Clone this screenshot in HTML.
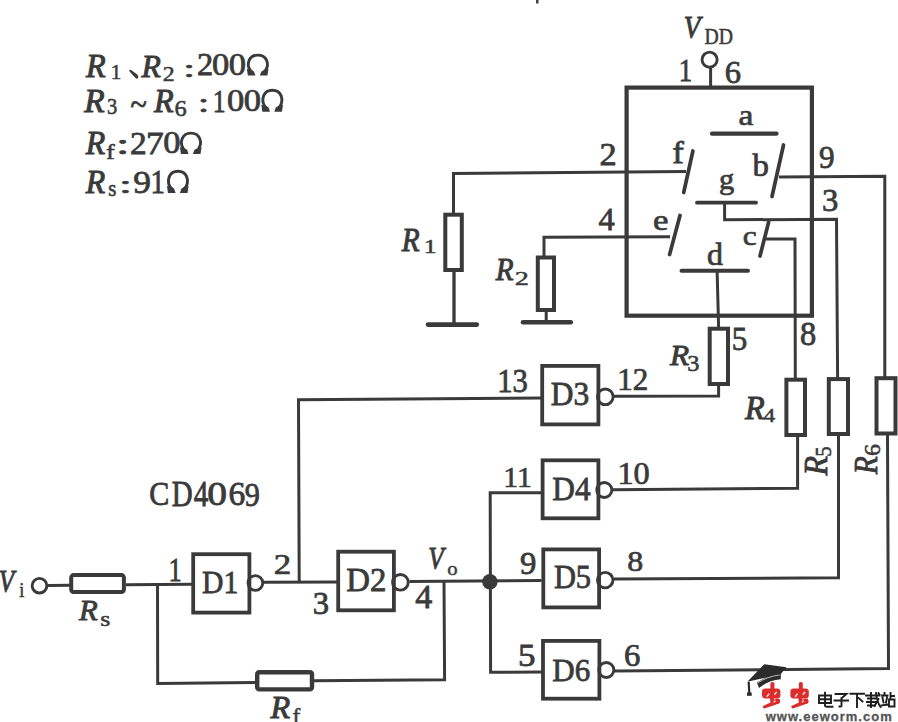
<!DOCTYPE html>
<html><head><meta charset="utf-8"><style>html,body{margin:0;padding:0;background:#fff}svg{display:block}</style></head>
<body><svg width="898" height="722" viewBox="0 0 898 722">
<rect width="898" height="722" fill="#fff"/>
<g stroke="#3a3a3a" fill="none" stroke-linecap="butt">
<rect x="626.6" y="87.6" width="185.3" height="228.10000000000002" fill="none" stroke-width="4.2"/>
<circle cx="709.6" cy="59.7" r="7.55" fill="none" stroke-width="2.9"/>
<line x1="710.6" y1="68" x2="710.6" y2="87" stroke-width="3"/>
<rect x="536" y="0" width="2.5" height="3.5" fill="#444" stroke="none"/>
<g stroke-linecap="round">
<line x1="712" y1="133.7" x2="776.5" y2="133.7" stroke-width="4.2"/>
<line x1="692.9" y1="151" x2="683.7" y2="192.5" stroke-width="3.7"/>
<line x1="783.5" y1="145" x2="772" y2="196.5" stroke-width="3.7"/>
<line x1="697" y1="202.7" x2="756" y2="202.7" stroke-width="3.8"/>
<line x1="680" y1="215.5" x2="669.6" y2="254.5" stroke-width="3.7"/>
<line x1="768.6" y1="222.3" x2="760" y2="256" stroke-width="3.7"/>
<line x1="681.5" y1="270.7" x2="748" y2="270.7" stroke-width="4"/>
</g>
<polyline points="686,171.6 453.5,173.5 453.5,214" fill="none" stroke-width="3" stroke-linejoin="miter"/>
<rect x="445.3" y="214.7" width="16.5" height="55.30000000000001" fill="none" stroke-width="4"/>
<line x1="454" y1="271" x2="454" y2="323.5" stroke-width="3.3"/>
<line x1="428" y1="324.6" x2="476.8" y2="324.6" stroke-width="4.6" stroke-linecap="round"/>
<polyline points="670,236.8 544,237.3 544,256" fill="none" stroke-width="3" stroke-linejoin="miter"/>
<rect x="537.8" y="257.5" width="16.200000000000045" height="52.5" fill="none" stroke-width="4"/>
<line x1="546.2" y1="311" x2="546.2" y2="322" stroke-width="3"/>
<line x1="523" y1="322.3" x2="570.8" y2="322.3" stroke-width="4.6" stroke-linecap="round"/>
<polyline points="779,176.9 884.8,176.3 884.8,377" fill="none" stroke-width="3" stroke-linejoin="miter"/>
<rect x="876.5" y="378.2" width="19.0" height="55.30000000000001" fill="none" stroke-width="4"/>
<polyline points="887.5,435 888.5,668.6 615,671.1" fill="none" stroke-width="3" stroke-linejoin="miter"/>
<polyline points="724.6,202.7 724.6,219.8 836.5,219.3 837.6,378" fill="none" stroke-width="3" stroke-linejoin="miter"/>
<rect x="828.8" y="379.1" width="19.200000000000045" height="54.89999999999998" fill="none" stroke-width="4"/>
<polyline points="838.5,435.5 838.5,577.8 614,578.9" fill="none" stroke-width="3" stroke-linejoin="miter"/>
<polyline points="766,239.1 795,239.1 795.3,378" fill="none" stroke-width="3" stroke-linejoin="miter"/>
<rect x="786.4" y="379.7" width="18.600000000000023" height="55.30000000000001" fill="none" stroke-width="4"/>
<polyline points="797.6,436.5 797.6,488.3 613,489.7" fill="none" stroke-width="3" stroke-linejoin="miter"/>
<line x1="717.1" y1="270.7" x2="718.6" y2="327" stroke-width="3"/>
<rect x="709.7" y="328.7" width="18.299999999999955" height="55.30000000000001" fill="none" stroke-width="4"/>
<polyline points="718.6,385.5 718.6,396 613,396.2" fill="none" stroke-width="3" stroke-linejoin="miter"/>
<rect x="542.1999999999999" y="365.9" width="56.2" height="58.500000000000014" fill="none" stroke-width="3.8"/>
<circle cx="605.3" cy="396.8" r="7.8500000000000005" fill="none" stroke-width="2.9"/>
<polyline points="299.2,582 298.5,399.8 541,397.9" fill="none" stroke-width="3" stroke-linejoin="miter"/>
<circle cx="39.5" cy="585.7" r="7.3500000000000005" fill="none" stroke-width="2.9"/>
<line x1="48" y1="585.4" x2="70" y2="585.2" stroke-width="3"/>
<rect x="71.2" y="575.1" width="52.7" height="17" rx="2.5" fill="none" stroke-width="4"/>
<line x1="126" y1="584.8" x2="192" y2="584.3" stroke-width="3"/>
<polyline points="157.5,584.5 157.7,683.4 256,682.5" fill="none" stroke-width="3" stroke-linejoin="miter"/>
<rect x="257.2" y="672.2" width="54.8" height="17.2" rx="2" fill="none" stroke-width="4.4"/>
<polyline points="313,680.8 444.6,679.8 444,581.5" fill="none" stroke-width="3" stroke-linejoin="miter"/>
<rect x="193.20000000000002" y="554.1999999999999" width="56.2" height="58.40000000000005" fill="none" stroke-width="3.8"/>
<circle cx="255.4" cy="583" r="7.3500000000000005" fill="none" stroke-width="2.9"/>
<line x1="264" y1="582.2" x2="337" y2="581.9" stroke-width="3"/>
<rect x="338.2" y="551.6999999999999" width="55.7" height="58.600000000000094" fill="none" stroke-width="3.8"/>
<circle cx="400.4" cy="582.3" r="7.8500000000000005" fill="none" stroke-width="2.9"/>
<line x1="409.5" y1="581.6" x2="541.6" y2="580.6" stroke-width="3"/>
<circle cx="489.9" cy="581.7" r="7.7" fill="#3a3a3a" stroke-width="0"/>
<polyline points="541.6,492.7 490.2,492.7 490.6,672.2 542,672.1" fill="none" stroke-width="3" stroke-linejoin="miter"/>
<rect x="542.6" y="460.29999999999995" width="55.79999999999991" height="58.00000000000007" fill="none" stroke-width="3.8"/>
<circle cx="604.3" cy="490" r="7.55" fill="none" stroke-width="2.9"/>
<rect x="543.3" y="549.4" width="55.800000000000026" height="57.99999999999996" fill="none" stroke-width="3.8"/>
<circle cx="605.2" cy="580.1" r="7.749999999999999" fill="none" stroke-width="2.9"/>
<rect x="543.0" y="640.9" width="56.399999999999935" height="57.800000000000026" fill="none" stroke-width="3.8"/>
<circle cx="606.3" cy="670" r="7.55" fill="none" stroke-width="2.9"/>
<path d="M129.3,70.2 Q130.2,69.4 131.5,70.3 L137.2,74.6 Q139.2,76.6 137.8,78.3 Q136.4,79.3 135,77.6 L129.6,71.4 Q129,70.8 129.3,70.2 Z" fill="#3a3a3a" stroke="none"/>
</g>
<g font-family="Liberation Serif" font-size="100" fill="#3a3a3a" stroke="#3a3a3a" stroke-width="2.4">
<text transform="translate(86.00,77.37) scale(0.3220,0.3333)" font-style="italic" stroke-width="3.0">R</text>
<text transform="translate(110.80,79.40) scale(0.2114,0.2182)">1</text>
<text transform="translate(141.50,76.88) scale(0.3169,0.3242)" font-style="italic" stroke-width="3.0">R</text>
<text transform="translate(162.84,81.38) scale(0.2390,0.2179)">2</text>
<text transform="translate(182.97,76.95) scale(0.4417,0.2521)">:</text>
<text transform="translate(197.10,75.29) scale(0.3244,0.3149)">2</text>
<text transform="translate(212.02,74.98) scale(0.3452,0.3103)">0</text>
<text transform="translate(228.72,74.98) scale(0.3452,0.3103)">0</text>
<text transform="translate(84.30,112.36) scale(0.3339,0.3439)" font-style="italic" stroke-width="3.0">R</text>
<text transform="translate(106.98,114.17) scale(0.2049,0.2299)">3</text>
<text transform="translate(130.59,115.01) scale(0.3021,0.3294)">~</text>
<text transform="translate(154.10,111.76) scale(0.3220,0.3424)" font-style="italic" stroke-width="3.0">R</text>
<text transform="translate(174.62,116.14) scale(0.2442,0.2294)">6</text>
<text transform="translate(197.87,112.34) scale(0.4167,0.2625)">:</text>
<text transform="translate(212.69,111.80) scale(0.2571,0.3212)">1</text>
<text transform="translate(227.02,111.18) scale(0.3452,0.3118)">0</text>
<text transform="translate(243.72,111.18) scale(0.3452,0.3118)">0</text>
<text transform="translate(85.80,154.37) scale(0.3186,0.3288)" font-style="italic" stroke-width="3.0">R</text>
<text transform="translate(106.01,159.00) scale(0.2633,0.2141)">f</text>
<text transform="translate(115.93,154.41) scale(0.4833,0.2875)">:</text>
<text transform="translate(130.06,153.69) scale(0.3341,0.3134)">2</text>
<text transform="translate(145.88,153.68) scale(0.3537,0.3182)">7</text>
<text transform="translate(163.32,153.38) scale(0.3452,0.3088)">0</text>
<text transform="translate(85.80,192.66) scale(0.3186,0.3394)" font-style="italic" stroke-width="3.0">R</text>
<text transform="translate(108.16,196.47) scale(0.2097,0.2271)">s</text>
<text transform="translate(118.83,192.74) scale(0.4833,0.2563)">:</text>
<text transform="translate(133.24,192.68) scale(0.3535,0.3239)">9</text>
<text transform="translate(150.50,193.00) scale(0.2886,0.3288)">1</text>
<text transform="translate(683.74,38.37) scale(0.2712,0.3134)" font-style="italic" stroke-width="3.0">V</text>
<text transform="translate(704.61,43.68) scale(0.1971,0.2227)">DD</text>
<text transform="translate(678.68,80.80) scale(0.2686,0.3152)">1</text>
<text transform="translate(724.70,83.37) scale(0.3256,0.3132)">6</text>
<text transform="translate(738.50,125.31) scale(0.3350,0.2896)">a</text>
<text transform="translate(672.26,163.00) scale(0.3467,0.3183)">f</text>
<text transform="translate(752.40,176.19) scale(0.3283,0.3057)">b</text>
<text transform="translate(819.07,168.18) scale(0.3116,0.3194)">9</text>
<text transform="translate(719.08,189.07) scale(0.3045,0.2918)">g</text>
<text transform="translate(821.97,210.98) scale(0.3268,0.3194)">3</text>
<text transform="translate(652.91,230.41) scale(0.3486,0.2937)">e</text>
<text transform="translate(742.85,244.72) scale(0.3135,0.2812)">c</text>
<text transform="translate(707.04,265.49) scale(0.3196,0.3057)">d</text>
<text transform="translate(599.62,164.58) scale(0.3439,0.3194)">2</text>
<text transform="translate(598.55,230.38) scale(0.3255,0.3152)">4</text>
<text transform="translate(401.70,251.17) scale(0.2932,0.3303)" font-style="italic" stroke-width="3.0">R</text>
<text transform="translate(423.69,253.00) scale(0.2571,0.1970)">1</text>
<text transform="translate(495.80,280.09) scale(0.2915,0.3091)" font-style="italic" stroke-width="3.0">R</text>
<text transform="translate(514.87,284.60) scale(0.2829,0.1955)">2</text>
<text transform="translate(731.74,349.67) scale(0.3100,0.3273)">5</text>
<text transform="translate(670.00,364.70) scale(0.3136,0.3030)" font-style="italic" stroke-width="3.0">R</text>
<text transform="translate(687.28,370.78) scale(0.2439,0.2239)">3</text>
<text transform="translate(800.00,344.73) scale(0.3238,0.3338)">8</text>
<text transform="translate(745.00,418.67) scale(0.3220,0.3288)" font-style="italic" stroke-width="3.0">R</text>
<text transform="translate(763.53,421.61) scale(0.2340,0.1939)">4</text>
<text transform="translate(497.24,391.77) scale(0.3069,0.3299)">13</text>
<text transform="translate(617.21,389.89) scale(0.3105,0.3119)">12</text>
<text transform="translate(550.76,405.37) scale(0.3148,0.3328)">D3</text>
<text transform="translate(149.20,505.22) scale(0.3000,0.3412)">C</text>
<text transform="translate(171.73,505.55) scale(0.2892,0.3515)">D</text>
<text transform="translate(193.72,505.55) scale(0.2915,0.3515)">4</text>
<text transform="translate(207.22,505.22) scale(0.3952,0.3412)">0</text>
<text transform="translate(228.46,505.22) scale(0.3349,0.3412)">6</text>
<text transform="translate(244.79,505.55) scale(0.3023,0.3463)">9</text>
<text transform="translate(-1.26,591.97) scale(0.2515,0.3134)" font-style="italic" stroke-width="3.0">V</text>
<text transform="translate(19.13,597.48) scale(0.1833,0.2164)">i</text>
<text transform="translate(78.90,619.82) scale(0.3068,0.2848)" font-style="italic" stroke-width="3.0">R</text>
<text transform="translate(100.27,625.69) scale(0.2581,0.2104)">s</text>
<text transform="translate(168.41,580.70) scale(0.2657,0.3303)">1</text>
<text transform="translate(202.11,593.27) scale(0.2965,0.3254)">D1</text>
<text transform="translate(273.70,574.40) scale(0.3488,0.3045)">2</text>
<text transform="translate(346.32,591.37) scale(0.3281,0.3328)">D2</text>
<text transform="translate(312.67,614.48) scale(0.3268,0.3179)">3</text>
<text transform="translate(415.32,607.86) scale(0.3404,0.3364)">4</text>
<text transform="translate(428.13,568.76) scale(0.2530,0.3194)" font-style="italic" stroke-width="3.0">V</text>
<text transform="translate(447.27,574.52) scale(0.2071,0.1813)">o</text>
<text transform="translate(270.60,717.77) scale(0.3220,0.3258)" font-style="italic" stroke-width="3.0">R</text>
<text transform="translate(292.40,722.50) scale(0.2333,0.2169)">f</text>
<text transform="translate(503.33,487.00) scale(0.2963,0.3030)">11</text>
<text transform="translate(552.26,499.67) scale(0.3136,0.3333)">D4</text>
<text transform="translate(617.39,484.38) scale(0.3230,0.3088)">10</text>
<text transform="translate(519.92,573.88) scale(0.3279,0.3239)">9</text>
<text transform="translate(553.89,588.07) scale(0.3043,0.3288)">D5</text>
<text transform="translate(627.32,571.11) scale(0.3190,0.2941)">8</text>
<text transform="translate(517.90,665.68) scale(0.3500,0.3182)">5</text>
<text transform="translate(552.27,681.45) scale(0.3103,0.3250)">D6</text>
<text transform="translate(623.99,666.48) scale(0.3279,0.3103)">6</text>
<text transform="translate(826.87,475.50) rotate(-90) scale(0.3203,0.3318)" font-style="italic" stroke-width="2.6">R</text>
<text transform="translate(830.56,456.75) rotate(-90) scale(0.2075,0.2364)" stroke-width="2.4">5</text>
<text transform="translate(877.37,474.30) rotate(-90) scale(0.2949,0.3273)" font-style="italic" stroke-width="2.6">R</text>
<text transform="translate(880.24,455.96) rotate(-90) scale(0.2395,0.2279)" stroke-width="2.4">6</text>
</g>
<g transform="translate(246.8,54.5) scale(21.69999999999999,21.099999999999994)"><path d="M.27,.86 C.06,.72 .03,.46 .11,.27 C.20,.07 .38,.03 .51,.03 C.64,.03 .82,.07 .91,.27 C.99,.46 .96,.72 .75,.86" fill="none" stroke="#3a3a3a" stroke-width=".135"/><path d="M.0,.68 L.05,1 L.40,1 L.33,.80 Z M1,.68 L.95,1 L.60,1 L.67,.80 Z" fill="#3a3a3a"/></g>
<g transform="translate(261.3,89.5) scale(21.69999999999999,22.299999999999997)"><path d="M.27,.86 C.06,.72 .03,.46 .11,.27 C.20,.07 .38,.03 .51,.03 C.64,.03 .82,.07 .91,.27 C.99,.46 .96,.72 .75,.86" fill="none" stroke="#3a3a3a" stroke-width=".135"/><path d="M.0,.68 L.05,1 L.40,1 L.33,.80 Z M1,.68 L.95,1 L.60,1 L.67,.80 Z" fill="#3a3a3a"/></g>
<g transform="translate(179.9,132.5) scale(21.69999999999999,21.5)"><path d="M.27,.86 C.06,.72 .03,.46 .11,.27 C.20,.07 .38,.03 .51,.03 C.64,.03 .82,.07 .91,.27 C.99,.46 .96,.72 .75,.86" fill="none" stroke="#3a3a3a" stroke-width=".135"/><path d="M.0,.68 L.05,1 L.40,1 L.33,.80 Z M1,.68 L.95,1 L.60,1 L.67,.80 Z" fill="#3a3a3a"/></g>
<g transform="translate(166.9,170.6) scale(21.69999999999999,22.400000000000006)"><path d="M.27,.86 C.06,.72 .03,.46 .11,.27 C.20,.07 .38,.03 .51,.03 C.64,.03 .82,.07 .91,.27 C.99,.46 .96,.72 .75,.86" fill="none" stroke="#3a3a3a" stroke-width=".135"/><path d="M.0,.68 L.05,1 L.40,1 L.33,.80 Z M1,.68 L.95,1 L.60,1 L.67,.80 Z" fill="#3a3a3a"/></g>
<g>
<path d="M764.3,664.2 L786.5,667.2 L780.4,674.5 L747.3,681.7 Z" fill="#2b2b2b"/>
<path d="M757,682.5 Q767,675.5 780.8,673.5 L780.8,679.3 Q768,680.5 759,688 Z" fill="#2b2b2b"/>
<path d="M758,682.8 Q767,676.6 779.5,675" fill="none" stroke="#e0e0e0" stroke-width="0.8"/>
<path d="M748.7,682 L749.3,693" stroke="#2b2b2b" stroke-width="2.2" fill="none"/>
<path d="M747,692.5 L751.7,692.5 L751.7,695.8 L747,695.8 Z" fill="#2b2b2b"/>
<g fill="#dc2c2c" stroke="none">
<path d="M770.4,683 Q772.4,681 774.4,683 L774.4,689 L770.4,689 Z"/>
<path d="M762,691.5 Q762,688.4 765.5,688.4 L777,688.4 Q780.4,688.4 780.4,691.5 L780.4,695.5 Q780.4,698.5 777,698.5 L765.5,698.5 Q762,698.5 762,695.5 Z"/>
<path d="M770,698 L774,698 L774.5,703.5 L770.5,704 Z"/>
<path d="M763,706 Q762.5,708.5 764.5,708.4 L779,703.5 Q780.5,702.5 779.5,700.5 L777,699.5 Z"/>
<circle cx="777.5" cy="701" r="2.6"/>
<path d="M774.5,699.5 L779.5,699 L779.5,703 L775,703.5 Z"/>
</g>
<g transform="translate(28.4,0)" fill="#dc2c2c" stroke="none">
<path d="M770.4,683 Q772.4,681 774.4,683 L774.4,689 L770.4,689 Z"/>
<path d="M762,691.5 Q762,688.4 765.5,688.4 L777,688.4 Q780.4,688.4 780.4,691.5 L780.4,695.5 Q780.4,698.5 777,698.5 L765.5,698.5 Q762,698.5 762,695.5 Z"/>
<path d="M770,698 L774,698 L774.5,703.5 L770.5,704 Z"/>
<path d="M763,706 Q762.5,708.5 764.5,708.4 L779,703.5 Q780.5,702.5 779.5,700.5 L777,699.5 Z"/>
<circle cx="777.5" cy="701" r="2.6"/>
<path d="M774.5,699.5 L779.5,699 L779.5,703 L775,703.5 Z"/>
</g>
<g fill="#fff" stroke="none">
<path d="M766.3,696.5 L768.6,693.2 L769.6,694 L767.3,697.3 Z"/>
<path d="M773.8,694.3 L776.2,691.6 L777.2,692.4 L774.8,695.1 Z"/>
<path d="M773.2,702 L775.2,700.4 L775.8,701.2 L773.8,702.8 Z"/>
<path d="M794.7,696.5 L797,693.2 L798,694 L795.7,697.3 Z"/>
<path d="M802.2,694.3 L804.6,691.6 L805.6,692.4 L803.2,695.1 Z"/>
<path d="M801.6,702 L803.6,700.4 L804.2,701.2 L802.2,702.8 Z"/>
</g>
<g stroke="#1e1e1e" stroke-width="1.9" fill="none" stroke-linecap="square">
<!-- 电 -->
<path d="M819,695.5 H831 V703 H819 Z M819,699.3 H831 M825,692.8 V705.5 Q825,706.7 827,706.7 H832.5"/>
<!-- 子 -->
<path d="M835.5,694 H846.5 L841.5,698.2 M841.5,698.2 V705.5 Q841.5,707 839.5,706.5 M834.5,700.5 H848"/>
<!-- 下 -->
<path d="M850.5,693.8 H864 M857,693.8 V707 M858.5,698 L862.5,701.5"/>
<!-- 载 -->
<path d="M866,695.5 H879.5 M868,698.5 H876 M867,702 H875.5 M871,693 V707 M868,705.5 H875 M876,693 Q877,702 880.5,707 M878.5,699 L874.5,706 M878.5,693.2 L879.5,694.5"/>
<!-- 站 -->
<path d="M882,695.5 H887.5 M884.5,693 V695.5 M882.5,697.5 L883.5,702.5 M887,697.5 L886,702.5 M881.5,705.5 L888,704.5 M890.5,693 V699 M890.5,696 H894 M889,699.5 H894.5 V706.5 H889 Z"/>
</g>
<text x="765.7" y="720.8" font-family="Liberation Sans" font-weight="bold" font-size="13" fill="#555" stroke="#555" stroke-width="0.3" textLength="126" lengthAdjust="spacing">www.eeworm.com</text>
</g>

</svg></body></html>
